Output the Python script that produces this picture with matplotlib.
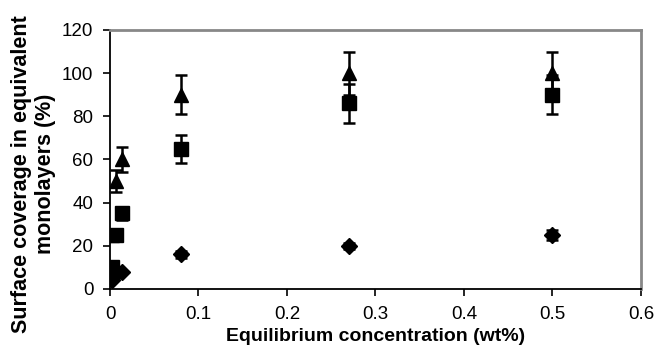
import matplotlib
matplotlib.use("Agg")
import matplotlib.pyplot as plt

plt.rcParams['font.family'] = ['Liberation Sans', 'DejaVu Sans']

# concentrations (wt%)
conc = [0.002, 0.007, 0.013, 0.08, 0.27, 0.5]

# triangles
tri_y = [25, 50, 60, 90, 100, 100]
tri_err = [0, 5, 6, 9, 10, 10]
# squares
sq_y = [10, 25, 35, 65, 86, 90]
sq_err = [0, 0, 3, 6.5, 9, 9]
# diamonds
dia_y = [4, 7, 8, 16, 20, 25]
dia_err = [0, 0, 0, 1.5, 1.5, 2.5]

xticks = [0, 0.1, 0.2, 0.3, 0.4, 0.5, 0.6]
yticks = [0, 20, 40, 60, 80, 100, 120]

fig = plt.figure(figsize=(6.56, 3.57), dpi=100)
ax = fig.add_axes([0.1677, 0.1905, 0.8093, 0.7255])

ekw = dict(fmt='none', ecolor='black', elinewidth=1.8, capsize=4, capthick=1.8, zorder=2)
ax.errorbar(conc, tri_y, yerr=tri_err, **ekw)
ax.errorbar(conc, sq_y, yerr=sq_err, **ekw)
ax.errorbar(conc, dia_y, yerr=dia_err, **ekw)

ax.plot(conc, tri_y, linestyle='none', marker='^', markersize=10.5, color='black', zorder=3)
ax.plot(conc, sq_y, linestyle='none', marker='s', markersize=9.5, color='black', zorder=3)
ax.plot(conc, dia_y, linestyle='none', marker='D', markersize=8.5, color='black', zorder=3)

ax.set_xlim(0, 0.6)
ax.set_ylim(0, 120)
ax.set_xticks(xticks)
ax.set_xticklabels(['0', '0.1', '0.2', '0.3', '0.4', '0.5', '0.6'])
ax.set_yticks(yticks)
ax.tick_params(direction='out', length=5, width=1.2, labelsize=13.5, pad=7)

for s in ['left', 'bottom']:
    ax.spines[s].set_color('black')
    ax.spines[s].set_linewidth(1.3)
for s in ['top', 'right']:
    ax.spines[s].set_color('#888888')
    ax.spines[s].set_linewidth(2)

ax.set_xlabel('Equilibrium concentration (wt%)', fontsize=14, fontweight='bold', labelpad=4)
fig.text(0.051, 0.512, 'Surface coverage in equivalent\nmonolayers (%)', rotation=90,
         ha='center', va='center', multialignment='center',
         fontsize=15.5, fontweight='bold', linespacing=1.15)

fig.savefig('out.png', dpi=100)
